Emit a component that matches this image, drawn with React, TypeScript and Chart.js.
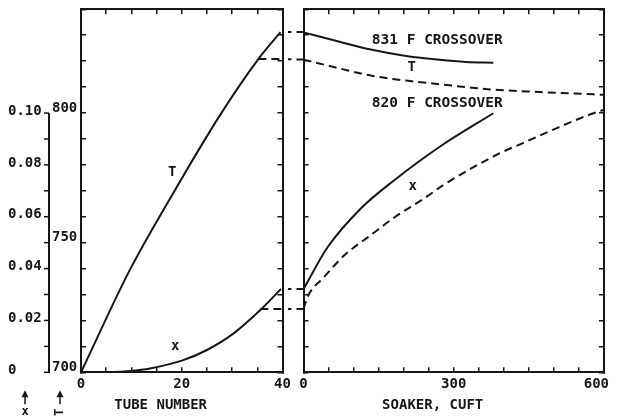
import React, { useEffect, useRef } from "react";
import { Chart, registerables } from "chart.js";

Chart.register(...registerables);

const INK = "#161616";
const FONT = "'DejaVu Sans Mono', 'Liberation Mono', monospace";

// ---------- axis ranges & tick labels ----------
const tempMin = 700;
const tempMax = 840;
const tempStep = 10;
const fracMin = 0;
const fracMax = 0.14;
const tubeMax = 40;
const tubeStep = 5;
const soakMax = 600;
const soakStep = 50;
const tubeTickLabels = [0, 20, 40];
const soakTickLabels = [0, 300];
const soakEdgeLabel = 600;
const fracTicks = [0, 0.01, 0.02, 0.03, 0.04, 0.05, 0.06, 0.07, 0.08, 0.09, 0.1];
const fracTickValues = [0, 0.02, 0.04, 0.06, 0.08, 0.1];
const fracTickText = ["0", "0.02", "0.04", "0.06", "0.08", "0.10"];
const tempTickValues = [700, 750, 800];

// ---------- left panel: tube number ----------
const tubeT = [0, 9.7, 18.3, 27.6, 35.2, 39.6];
const tubeTValues = [700, 739.5, 769.1, 799.2, 820.8, 831.2];
const tube820T = [35.2, 40];
const tube820TValues = [820.8, 820.8];
const tubeX = [0, 6.3, 9.7, 13.7, 20.3, 25, 30.3, 35.6, 39.7];
const tubeXValues = [0, 0.0001, 0.0005, 0.0015, 0.0047, 0.0086, 0.015, 0.024, 0.0321];
const tube820X = [35.6, 40];
const tube820XValues = [0.0244, 0.0244];

// ---------- connectors between panels (cuft before soaker inlet) ----------
const gapSoak = [-40, 0];
const gapT831 = [831.2, 831.2];
const gapT820 = [820.8, 820.6];
const gapX831 = [0.0321, 0.0321];
const gapX820 = [0.0244, 0.0244];

// ---------- right panel: soaker volume ----------
const soakT831 = [0, 72, 132, 205, 272, 325, 379];
const soakT831Values = [831.1, 827.5, 824.6, 822, 820.5, 819.7, 819.4];
const soakT820 = [0, 72, 138, 205, 272, 372, 472, 578, 600];
const soakT820Values = [820.6, 817.2, 814.3, 812.5, 811.1, 809.1, 808.1, 807.2, 807.0];
const soakX831 = [0, 48.7, 115, 182, 272, 379];
const soakX831Values = [0.0321, 0.0484, 0.0633, 0.0742, 0.087, 0.0999];
const soakX820 = [0, 10, 40, 82, 135, 182, 242, 279, 392, 438, 506, 586, 600];
const soakX820Values = [0.0244, 0.0298, 0.0365, 0.0452, 0.053, 0.0598, 0.0672, 0.0722, 0.0845, 0.0884, 0.0942, 0.1004, 0.1012];

// ---------- annotations (data coordinates) ----------
const leftTNote = [18.1, 777.2];
const leftXNote = [18.7, 0.0101];
const rightTNote = [216, 817.7];
const rightXNote = [218, 0.0718];
const crossover831 = { text: "831 F CROSSOVER", at: [267, 828.2] };
const crossover820 = { text: "820 F CROSSOVER", at: [267, 803.9] };

const pts = (xs: number[], ys: number[]) => xs.map((x, i) => ({ x, y: ys[i] }));

const series = (xs: number[], ys: number[], axis: string, dashed: boolean, clip = true): any => ({
  data: pts(xs, ys),
  yAxisID: axis,
  borderColor: INK,
  borderWidth: 2,
  borderDash: dashed ? [8, 5] : [],
  pointRadius: 0,
  cubicInterpolationMode: "monotone",
  fill: false,
  ...(clip ? {} : { clip: false }),
});

const gridOpts = { drawOnChartArea: false, tickLength: -5, color: INK, lineWidth: 1.5 };
const borderOpts = { display: true, color: INK, width: 2 };
const tickFont = { family: FONT, size: 14, weight: "bold" as const };

const edgeAxis = (position: string, min: number, max: number, step: number, intervals: number): any => ({
  type: "linear",
  position,
  min,
  max,
  ticks: { display: false, stepSize: step, maxTicksLimit: intervals + 1 },
  grid: gridOpts,
  border: borderOpts,
  afterFit: (s: any) => {
    if (position === "left" || position === "right") s.width = 0;
    else s.height = 0;
  },
});

const bottomAxis = (max: number, step: number, intervals: number, labels: number[], title: string): any => ({
  type: "linear",
  position: "bottom",
  min: 0,
  max,
  ticks: {
    stepSize: step,
    maxTicksLimit: intervals + 1,
    autoSkip: false,
    maxRotation: 0,
    padding: 9,
    color: INK,
    font: tickFont,
    callback: (v: any) => (labels.some((l) => Math.abs(l - v) < 1e-6) ? String(v) : ""),
  },
  grid: gridOpts,
  border: borderOpts,
  title: { display: true, text: title, color: INK, font: tickFont, padding: { top: 0, bottom: 4 } },
  afterFit: (s: any) => {
    s.height = 45.7;
    s.paddingLeft = 0;
    s.paddingRight = 0;
  },
});

const leftDecor = {
  id: "leftDecor",
  afterDraw(chart: any) {
    const { ctx, chartArea } = chart;
    const yx = chart.scales.yX;
    const yt = chart.scales.y;
    const xs = chart.scales.x;
    ctx.save();
    ctx.strokeStyle = INK;
    ctx.fillStyle = INK;
    ctx.lineWidth = 2;
    // outer dual axis: fraction x (left) and temperature T (right)
    const ax = chartArea.left - 32;
    ctx.beginPath();
    ctx.moveTo(ax, yx.getPixelForValue(fracTickValues[fracTickValues.length - 1]));
    ctx.lineTo(ax, yx.getPixelForValue(0) + 1);
    ctx.stroke();
    ctx.lineWidth = 1.5;
    fracTicks.forEach((v) => {
      const p = yx.getPixelForValue(v);
      ctx.beginPath();
      ctx.moveTo(ax - 5, p);
      ctx.lineTo(ax, p);
      ctx.stroke();
    });
    ctx.font = `bold 14px ${FONT}`;
    ctx.textAlign = "left";
    ctx.textBaseline = "middle";
    fracTickValues.forEach((v, i) => {
      ctx.fillText(fracTickText[i], 0, yx.getPixelForValue(v) - 2);
    });
    ctx.textBaseline = "bottom";
    tempTickValues.forEach((v) => {
      ctx.fillText(String(v), ax + 3, yt.getPixelForValue(v) + 2);
    });
    // arrows under the axis
    const base = chartArea.bottom;
    const arrow = (x: number) => {
      ctx.lineWidth = 1.5;
      ctx.beginPath();
      ctx.moveTo(x, base + 22);
      ctx.lineTo(x, base + 32);
      ctx.stroke();
      ctx.beginPath();
      ctx.moveTo(x, base + 18);
      ctx.lineTo(x - 3.5, base + 25);
      ctx.lineTo(x + 3.5, base + 25);
      ctx.closePath();
      ctx.fill();
    };
    const xa = ax - 24;
    const ta = ax + 11;
    arrow(xa);
    arrow(ta);
    ctx.textAlign = "center";
    ctx.textBaseline = "middle";
    ctx.font = `bold 12px ${FONT}`;
    ctx.fillText("x", xa, base + 40);
    ctx.save();
    ctx.translate(ta, base + 40);
    ctx.rotate(-Math.PI / 2);
    ctx.fillText("T", 0, 0);
    ctx.restore();
    // curve labels
    ctx.font = `bold 14px ${FONT}`;
    ctx.fillText("T", xs.getPixelForValue(leftTNote[0]), yt.getPixelForValue(leftTNote[1]));
    ctx.fillText("x", xs.getPixelForValue(leftXNote[0]), yx.getPixelForValue(leftXNote[1]));
    ctx.restore();
  },
};

const rightDecor = {
  id: "rightDecor",
  afterDraw(chart: any) {
    const { ctx, chartArea } = chart;
    const yx = chart.scales.yX;
    const yt = chart.scales.y;
    const xs = chart.scales.x;
    ctx.save();
    ctx.fillStyle = INK;
    ctx.textAlign = "center";
    ctx.textBaseline = "middle";
    ctx.font = `bold 14.5px ${FONT}`;
    ctx.fillText(crossover831.text, xs.getPixelForValue(crossover831.at[0]), yt.getPixelForValue(crossover831.at[1]));
    ctx.fillText(crossover820.text, xs.getPixelForValue(crossover820.at[0]), yt.getPixelForValue(crossover820.at[1]));
    ctx.font = `bold 14px ${FONT}`;
    ctx.fillText("T", xs.getPixelForValue(rightTNote[0]), yt.getPixelForValue(rightTNote[1]));
    ctx.fillText("x", xs.getPixelForValue(rightXNote[0]), yx.getPixelForValue(rightXNote[1]));
    // end label of the soaker axis, kept inside the visible page edge
    ctx.textAlign = "right";
    ctx.fillText(String(soakEdgeLabel), xs.getPixelForValue(soakEdgeLabel) + 5, chartArea.bottom + 12.4);
    ctx.restore();
  },
};

export default function App() {
  const leftRef = useRef<HTMLCanvasElement>(null);
  const rightRef = useRef<HTMLCanvasElement>(null);

  useEffect(() => {
    document.documentElement.style.overflow = "hidden";
    const tIntervals = (tempMax - tempMin) / tempStep;
    const common = (pad: any) => ({
      responsive: false,
      animation: false as const,
      devicePixelRatio: 1,
      layout: { padding: pad },
      plugins: { legend: { display: false }, tooltip: { enabled: false } },
      events: [] as any[],
    });

    const left = new Chart(leftRef.current as HTMLCanvasElement, {
      type: "line",
      data: {
        datasets: [
          series(tubeT, tubeTValues, "y", false),
          series(tube820T, tube820TValues, "y", true),
          series(tubeX, tubeXValues, "yX", false),
          series(tube820X, tube820XValues, "yX", true),
        ],
      },
      options: {
        ...common({ left: 73, right: 25.5, top: 1.3, bottom: 0 }),
        scales: {
          x: bottomAxis(tubeMax, tubeStep, tubeMax / tubeStep, tubeTickLabels, "TUBE NUMBER     "),
          xTop: edgeAxis("top", 0, tubeMax, tubeStep, tubeMax / tubeStep),
          y: edgeAxis("left", tempMin, tempMax, tempStep, tIntervals),
          yRight: edgeAxis("right", tempMin, tempMax, tempStep, tIntervals),
          yX: { type: "linear", display: false, min: fracMin, max: fracMax },
        },
      } as any,
      plugins: [leftDecor],
    });

    const right = new Chart(rightRef.current as HTMLCanvasElement, {
      type: "line",
      data: {
        datasets: [
          series(gapSoak, gapT831, "y", true, false),
          series(gapSoak, gapT820, "y", true, false),
          series(gapSoak, gapX831, "yX", true, false),
          series(gapSoak, gapX820, "yX", true, false),
          series(soakT831, soakT831Values, "y", false),
          series(soakT820, soakT820Values, "y", true),
          series(soakX831, soakX831Values, "yX", false),
          series(soakX820, soakX820Values, "yX", true),
        ],
      },
      options: {
        ...common({ left: 15.5, right: 14, top: 1.3, bottom: 0 }),
        scales: {
          x: bottomAxis(soakMax, soakStep, soakMax / soakStep, soakTickLabels, "SOAKER, CUFT     "),
          xTop: edgeAxis("top", 0, soakMax, soakStep, soakMax / soakStep),
          y: edgeAxis("left", tempMin, tempMax, tempStep, tIntervals),
          yRight: edgeAxis("right", tempMin, tempMax, tempStep, tIntervals),
          yX: { type: "linear", display: false, min: fracMin, max: fracMax },
        },
      } as any,
      plugins: [rightDecor],
    });

    return () => {
      left.destroy();
      right.destroy();
    };
  }, []);

  return (
    <div style={{ position: "relative", width: 610, height: 410 }}>
      <canvas ref={leftRef} width={300} height={410} style={{ position: "absolute", left: 0, top: 0 }} />
      <canvas ref={rightRef} width={330} height={410} style={{ position: "absolute", left: 280, top: 0 }} />
    </div>
  );
}
